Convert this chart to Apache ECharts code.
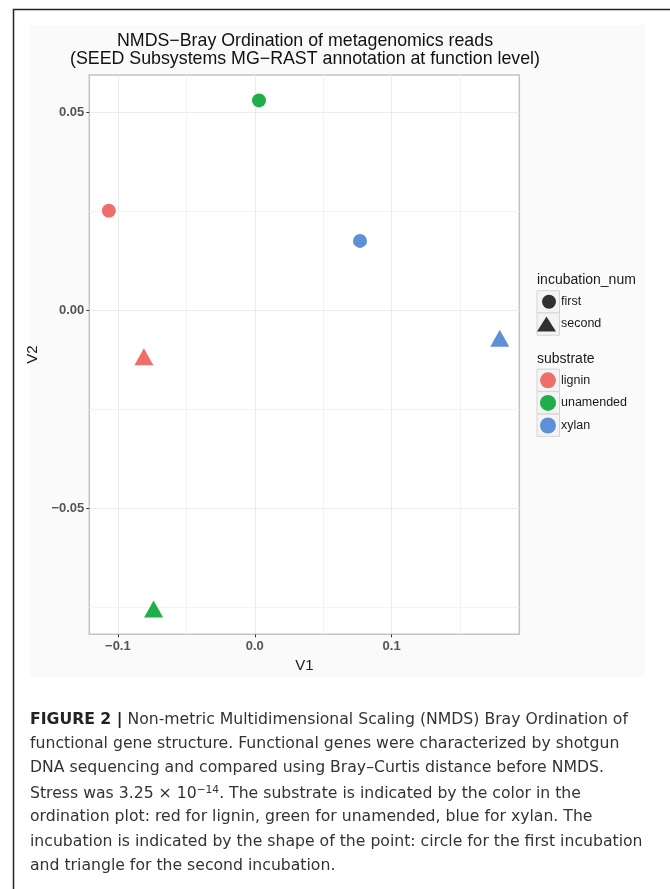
<!DOCTYPE html>
<html lang="en">

<head>
    <meta charset="UTF-8">
    <title>NMDS Bray Ordination</title>
    <style>
        html, body { margin: 0; padding: 0; background: #fff; }
        #chartContainer { width: 670px; height: 889px; }
    </style>
    <script src="https://cdnjs.cloudflare.com/ajax/libs/echarts/6.0.0/echarts.min.js"></script>
</head>

<body>
    <div id="chartContainer"></div>
    <script>
        // values
        const substrates = ['lignin', 'unamended', 'xylan'];
        const substrateColors = ['#EE6F6A', '#1FAE49', '#5F8FD6'];
        const incubations = ['first', 'second'];

        // first incubation (circles), one per substrate
        const v1First = [-0.1066, 0.0031, 0.0769];
        const v2First = [0.0251, 0.0530, 0.0175];
        // second incubation (triangles)
        const v1Second = [-0.0810, -0.0739, 0.1790];
        const v2Second = [-0.0118, -0.0755, -0.0071];

        const xMajorTicks = [-0.1, 0, 0.1];
        const xMinorTicks = [-0.05, 0.05, 0.15];
        const yMajorTicks = [-0.05, 0, 0.05];
        const yMinorTicks = [-0.075, -0.025, 0.025];

        const captionLines = [
            'Non-metric Multidimensional Scaling (NMDS) Bray Ordination of',
            'functional gene structure. Functional genes were characterized by shotgun',
            'DNA sequencing and compared using Bray\u2013Curtis distance before NMDS.',
            'Stress was 3.25 \u00d7 10',
            'ordination plot: red for lignin, green for unamended, blue for xylan. The',
            'incubation is indicated by the shape of the point: circle for the first incubation',
            'and triangle for the second incubation.'
        ];

        const minus = s => s.replace('-', '\u2212');

        // ggplot default expansion: 5% of the data range
        function expandRange(a, b) {
            const all = a.concat(b);
            const lo = Math.min(...all), hi = Math.max(...all);
            const pad = (hi - lo) * 0.05;
            return [lo - pad, hi + pad];
        }
        const xRange = expandRange(v1First, v1Second);
        const yRange = expandRange(v2First, v2Second);

        // size the caption font so the longest line spans about the same width as in the figure
        const captionFont = 'DejaVu Sans';
        const measureCtx = document.createElement('canvas').getContext('2d');
        measureCtx.font = '16px "' + captionFont + '"';
        const captionSize = Math.min(17, 16 * 613 / measureCtx.measureText(captionLines[5]).width);

        const pointSeries = substrates.map((name, i) => ({
            name: name,
            type: 'scatter',
            xAxisIndex: 0,
            yAxisIndex: 0,
            symbol: val => val[2] === 'first' ? 'circle' : 'triangle',
            symbolSize: val => val[2] === 'first' ? 14 : [19, 17],
            itemStyle: { color: substrateColors[i], opacity: 1 },
            emphasis: { disabled: true },
            data: [
                [v1First[i], v2First[i], 'first'],
                [v1Second[i], v2Second[i], 'second']
            ]
        }));

        // empty series so the shape legend has entries
        const shapeSeries = incubations.map(name => ({
            name: name,
            type: 'scatter',
            itemStyle: { color: '#000' },
            data: []
        }));

        const tickFont = { fontSize: 13, fontWeight: 'bold', color: '#555', fontFamily: 'Liberation Sans' };
        const keyFont = { fontSize: 12.5, color: '#1a1a1a', fontFamily: 'Liberation Sans' };

        const legendBase = {
            orient: 'vertical',
            selectedMode: false,
            padding: 0,
            itemGap: 6.6,
            textStyle: keyFont
        };

        // legend key boxes (ggplot style)
        const keyBoxes = [];
        [290.7, 312.9, 369.1, 391.6, 414.1].forEach(y => {
            keyBoxes.push({
                type: 'rect', z: -1,
                shape: { x: 537, y: y, width: 22.5, height: 22.3 },
                style: { fill: '#f4f4f4', stroke: '#d4d4d4', lineWidth: 1 }
            });
        });

        const captionGraphics = captionLines.map((line, i) => {
            let text = line;
            if (i === 0) {
                text = '{b|FIGURE 2 |} ' + line;
            } else if (i === 3) {
                text = line + '{sup|\u221214}. The substrate is indicated by the color in the';
            }
            return {
                type: 'text',
                left: 30,
                top: 711.5 + i * 24.4,
                style: {
                    text: text,
                    fontSize: captionSize,
                    fontFamily: captionFont,
                    fill: '#333',
                    rich: {
                        b: { fontSize: captionSize, fontWeight: 'bold', fontFamily: captionFont, fill: '#222' },
                        sup: { fontSize: captionSize * 0.68, fontFamily: captionFont, fill: '#333', verticalAlign: 'top', padding: [0, 0, 8, 0] }
                    }
                }
            };
        });

        const option = {
            animation: false,
            backgroundColor: '#ffffff',
            grid: {
                left: 89.3,
                right: 150.7,
                top: 75,
                bottom: 254.7,
                show: true,
                backgroundColor: '#ffffff',
                borderColor: '#c4c4c4',
                borderWidth: 1.5,
                outerBoundsMode: 'none'
            },
            xAxis: [{
                type: 'value',
                min: xRange[0],
                max: xRange[1],
                name: 'V1',
                nameLocation: 'middle',
                nameGap: 24,
                nameTextStyle: { fontSize: 15, color: '#1a1a1a', fontFamily: 'Liberation Sans' },
                axisLine: { show: false, onZero: false },
                axisTick: { show: true, length: 3, customValues: xMajorTicks, lineStyle: { color: '#333', width: 1 } },
                axisLabel: {
                    customValues: xMajorTicks, margin: 6, ...tickFont,
                    formatter: v => minus(v.toFixed(1))
                },
                splitLine: { show: true, lineStyle: { color: '#ebebeb', width: 1 } }
            }, {
                type: 'value',
                min: xRange[0],
                max: xRange[1],
                position: 'bottom',
                axisLine: { show: false, onZero: false },
                axisTick: { show: false, customValues: xMinorTicks },
                axisLabel: { show: false, customValues: xMinorTicks },
                splitLine: { show: true, lineStyle: { color: '#f3f3f3', width: 1 } }
            }],
            yAxis: [{
                type: 'value',
                min: yRange[0],
                max: yRange[1],
                name: 'V2',
                nameLocation: 'middle',
                nameGap: 38,
                nameRotate: 90,
                nameTextStyle: { fontSize: 15, color: '#1a1a1a', fontFamily: 'Liberation Sans' },
                axisLine: { show: false, onZero: false },
                axisTick: { show: true, length: 3, customValues: yMajorTicks, lineStyle: { color: '#333', width: 1 } },
                axisLabel: {
                    customValues: yMajorTicks, margin: 5, ...tickFont,
                    formatter: v => minus(v.toFixed(2))
                },
                splitLine: { show: true, lineStyle: { color: '#ebebeb', width: 1 } }
            }, {
                type: 'value',
                min: yRange[0],
                max: yRange[1],
                position: 'left',
                axisLine: { show: false, onZero: false },
                axisTick: { show: false, customValues: yMinorTicks },
                axisLabel: { show: false, customValues: yMinorTicks },
                splitLine: { show: true, lineStyle: { color: '#f3f3f3', width: 1 } }
            }],
            legend: [
                { ...legendBase, data: [{ name: 'first', icon: 'circle' }], left: 542, top: 294.8, itemWidth: 14, itemHeight: 14 },
                { ...legendBase, data: [{ name: 'second', icon: 'triangle' }], left: 537, top: 316.5, itemWidth: 19, itemHeight: 15 },
                {
                    ...legendBase,
                    data: substrates.map(s => ({ name: s, icon: 'circle' })),
                    left: 540, top: 372.3, itemWidth: 16, itemHeight: 16
                }
            ],
            graphic: [
                // outer page frame and ggplot image background
                { type: 'rect', z: -10, shape: { x: 13.5, y: 9.5, width: 660, height: 900 }, style: { fill: '#fff', stroke: '#222', lineWidth: 1.5 } },
                { type: 'rect', z: -9, shape: { x: 30, y: 25, width: 615, height: 652 }, style: { fill: '#fafafa' } },
                {
                    type: 'text', x: 305, y: 32,
                    style: {
                        text: 'NMDS\u2212Bray Ordination of metagenomics reads\n(SEED Subsystems MG\u2212RAST annotation at function level)',
                        align: 'center', fontSize: 17.8, lineHeight: 18.3,
                        fontFamily: 'Liberation Sans', fill: '#111'
                    }
                },
                { type: 'text', left: 537, top: 273, style: { text: 'incubation_num', fontSize: 14, fontFamily: 'Liberation Sans', fill: '#1a1a1a' } },
                { type: 'text', left: 537, top: 352, style: { text: 'substrate', fontSize: 14, fontFamily: 'Liberation Sans', fill: '#1a1a1a' } }
            ].concat(keyBoxes, captionGraphics),
            series: pointSeries.concat(shapeSeries)
        };

        const myChart = echarts.init(document.getElementById('chartContainer'), null, { renderer: 'canvas' });
        myChart.setOption(option);
    </script>
</body>

</html>
